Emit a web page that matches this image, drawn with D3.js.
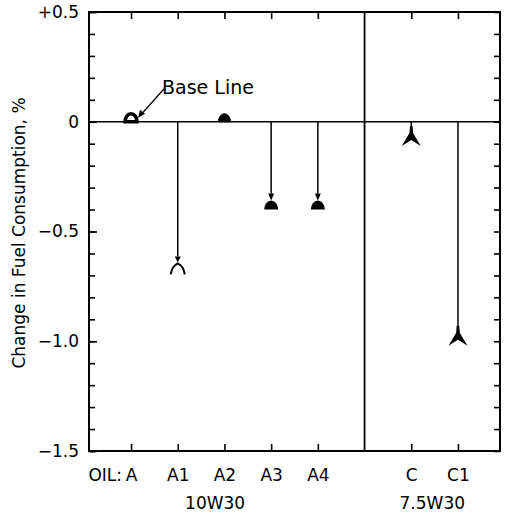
<!DOCTYPE html>
<html>
<head>
<meta charset="utf-8">
<script src="https://cdn.jsdelivr.net/npm/d3@7"></script>
<style>
  html, body { margin: 0; padding: 0; background: #fff; }
  svg { display: block; }
</style>
</head>
<body>
<div id="chart"></div>
<script>
// Data
const oils = ["A", "A1", "A2", "A3", "A4", "C", "C1"];
const oilSlot = [0, 1, 2, 3, 4, 6, 7];          // slot 5 is the gap between grades
const change = [0, -0.70, 0, -0.40, -0.40, -0.11, -1.02];
const markerType = ["baseOpen", "fork", "dome", "dome", "dome", "chevron", "chevron"];
const grades = ["10W30", "7.5W30"];
const gradeSlot = [1.8, 6.45];
const yMajor = [0.5, 0, -0.5, -1.0, -1.5];
const yMajorLabels = ["+0.5", "0", "\u22120.5", "\u22121.0", "\u22121.5"];
const separatorSlot = 5;

const W = 505, H = 515;
const margin = { top: 12, right: 5, bottom: 64, left: 89 };
const width = W - margin.left - margin.right;
const height = H - margin.top - margin.bottom;
const font = "DejaVu Sans, sans-serif";

const svg = d3.select("#chart").append("svg")
  .attr("width", W)
  .attr("height", H)
  .style("font-family", font);

const g = svg.append("g").attr("transform", `translate(${margin.left},${margin.top})`);

// Scales
const x = d3.scaleLinear().domain([-0.9, 7.9]).range([0, width]);
const y = d3.scaleLinear().domain([-1.5, 0.5]).range([height, 0]);

// Minor y ticks every 0.1
const yMinor = d3.range(-15, 6).map(d => d / 10);

// ticks point into the frame
function styleTicks(a) {
  a.select(".domain").remove();
  a.selectAll(".tick line").attr("stroke", "#000").attr("stroke-width", 1.6);
  a.selectAll(".tick text")
    .attr("font-size", 17)
    .attr("font-family", font)
    .attr("fill", "#000");
}

g.append("g")
  .call(d3.axisLeft(y).tickValues(yMinor).tickSize(-6).tickFormat(() => ""))
  .call(styleTicks);

g.append("g")
  .call(d3.axisLeft(y).tickValues(yMajor).tickSize(-8).tickPadding(10)
    .tickFormat((d, i) => yMajorLabels[i]))
  .call(styleTicks);

g.append("g")
  .attr("transform", `translate(${width},0)`)
  .call(d3.axisRight(y).tickValues(yMinor).tickSize(-6).tickFormat(() => ""))
  .call(styleTicks);

g.append("g")
  .call(d3.axisTop(x).tickValues(oilSlot).tickSize(-7).tickFormat(() => ""))
  .call(styleTicks);

g.append("g")
  .attr("transform", `translate(0,${height})`)
  .call(d3.axisBottom(x).tickValues(oilSlot).tickSize(-7).tickPadding(18)
    .tickFormat((d, i) => oils[i]))
  .call(styleTicks);

// "OIL:" prefix in front of the first label
g.append("text")
  .attr("x", x(oilSlot[0]) - 9)
  .attr("y", height + 18)
  .attr("dy", "0.71em")
  .attr("text-anchor", "end")
  .attr("font-size", 17)
  .text("OIL:");

// Grade labels
g.selectAll("text.grade")
  .data(grades)
  .join("text")
  .attr("class", "grade")
  .attr("x", (d, i) => x(gradeSlot[i]))
  .attr("y", height + 46)
  .attr("dy", "0.71em")
  .attr("text-anchor", "middle")
  .attr("font-size", 17)
  .text(d => d);

// Frame, zero line and separator
g.append("rect")
  .attr("width", width)
  .attr("height", height)
  .attr("fill", "none")
  .attr("stroke", "#000")
  .attr("stroke-width", 2);

g.append("line")
  .attr("x1", 0).attr("x2", width)
  .attr("y1", y(0)).attr("y2", y(0))
  .attr("stroke", "#000").attr("stroke-width", 1.6);

g.append("line")
  .attr("x1", x(separatorSlot)).attr("x2", x(separatorSlot))
  .attr("y1", 0).attr("y2", height)
  .attr("stroke", "#000").attr("stroke-width", 1.8);

// Marker shapes, bottom at the value
const symH = { baseOpen: 0, dome: 16, fork: 19, chevron: 20 };

const points = oils.map((k, i) => ({ key: k, slot: oilSlot[i], v: change[i], type: markerType[i] }));

const items = g.selectAll("g.pt")
  .data(points)
  .join("g")
  .attr("class", "pt")
  .attr("transform", d => `translate(${x(d.slot)},${y(d.v)})`);

// stems from the base line down to the marker
items.filter(d => d.v !== 0)
  .append("line")
  .attr("x1", 0).attr("x2", 0)
  .attr("y1", d => y(0) - y(d.v))
  .attr("y2", d => -symH[d.type])
  .attr("stroke", "#000")
  .attr("stroke-width", 1.5);

// small downward arrowhead at the end of each stem (dome and fork)
items.filter(d => d.v !== 0 && d.type !== "chevron")
  .append("path")
  .attr("d", d => {
    const t = -symH[d.type];
    const tip = d.type === "dome" ? t + 7 : t + 6;
    return `M-3,${t}L3,${t}L0,${tip}Z`;
  })
  .attr("fill", "#000");

items.each(function(d) {
  const s = d3.select(this);
  if (d.type === "baseOpen" || (d.type === "dome" && d.v === 0)) {
    s.append("path")
      .attr("d", "M-6,0A6,8 0 0 1 6,0Z")
      .attr("fill", d.type === "baseOpen" ? "#fff" : "#000")
      .attr("stroke", "#000")
      .attr("stroke-width", d.type === "baseOpen" ? 3.5 : 1);
  } else if (d.type === "dome") {
    s.append("path")
      .attr("d", "M-7,0A7,9 0 0 1 7,0Z")
      .attr("fill", "#000");
  } else if (d.type === "fork") {
    s.append("path")
      .attr("d", "M-7,-1Q-6,-9 0,-12Q6,-9 7,-1")
      .attr("fill", "none")
      .attr("stroke", "#000")
      .attr("stroke-width", 2);
  } else if (d.type === "chevron") {
    s.append("path")
      .attr("d", "M-1.3,-20L1.3,-20L1.8,-13L9.5,0L0,-6L-9.5,0L-1.8,-13Z")
      .attr("fill", "#000");
  }
});

// "Base Line" annotation
const bx = x(oilSlot[0]), by = y(0);
g.append("line")
  .attr("x1", bx + 34).attr("y1", by - 34)
  .attr("x2", bx + 9).attr("y2", by - 6)
  .attr("stroke", "#000").attr("stroke-width", 1.2);
g.append("path")
  .attr("d", `M${bx + 7},${by - 4}L${bx + 9},${by - 12}L${bx + 14},${by - 8}Z`)
  .attr("fill", "#000");
g.append("text")
  .attr("x", bx + 31)
  .attr("y", by - 28)
  .attr("font-size", 19)
  .text("Base Line");

// Y-axis title
svg.append("text")
  .attr("transform", "rotate(-90)")
  .attr("x", -233)
  .attr("y", 25)
  .attr("text-anchor", "middle")
  .attr("font-size", 17)
  .text("Change in Fuel Consumption, %");
</script>
</body>
</html>
